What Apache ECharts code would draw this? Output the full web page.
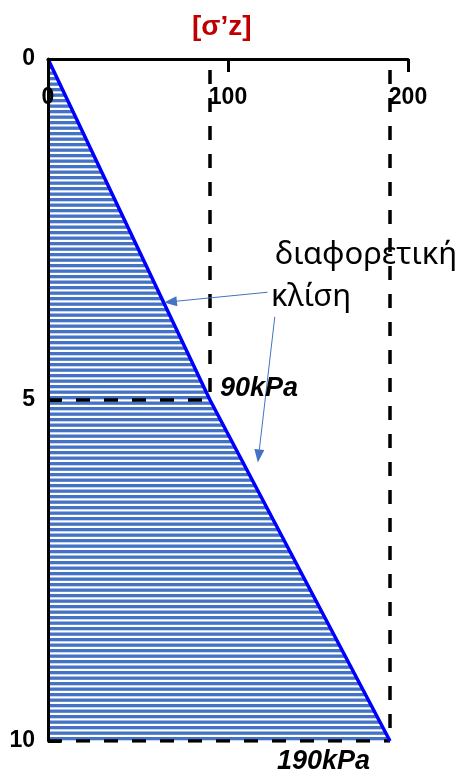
<!DOCTYPE html>
<html>
<head>
<meta charset="utf-8">
<script src="https://cdn.jsdelivr.net/npm/echarts@6/dist/echarts.min.js"></script>
<style>
  html, body { margin: 0; padding: 0; background: #fff; }
  #main { width: 462px; height: 771px; }
</style>
</head>
<body>
<div id="main"></div>
<script>
// profile of effective vertical stress with depth
const depth = [0, 5, 10];
const stress = [0, 90, 190];
const stressLabels = ['', '90kPa', '190kPa'];
const xTicks = [0, 100, 200];
const yTicks = [0, 5, 10];

// annotation arrows: [from, to] in [stress, depth]
const arrows = [
  [[122, 3.42], [68, 3.56]],
  [[126, 3.78], [117, 5.82]]
];

function stripes() {
  const c = document.createElement('canvas');
  c.width = 4; c.height = 11;
  const ctx = c.getContext('2d');
  ctx.fillStyle = '#fff';
  ctx.fillRect(0, 0, 4, 11);
  ctx.fillStyle = '#4472C4';
  ctx.fillRect(0, 0, 4, 3.3);
  ctx.fillRect(0, 5.5, 4, 3.3);
  return c;
}
const pattern = { image: stripes(), repeat: 'repeat' };

const layers = depth.slice(1).map((d, i) => [stress[i], depth[i], stress[i + 1], d]);

const dashStyle = { color: '#000', width: 3.5, type: [14, 14] };
const guides = [];
for (let i = 1; i < depth.length; i++) {
  guides.push({
    type: 'line', symbol: 'none', silent: true, z: 3,
    data: [[stress[i], 0], [stress[i], depth[i]]],
    lineStyle: Object.assign({ dashOffset: 17 }, dashStyle)
  });
  guides.push({
    type: 'line', symbol: 'none', silent: true, z: 3,
    data: [[0, depth[i]], [stress[i], depth[i]]],
    lineStyle: dashStyle
  });
}

const chart = echarts.init(document.getElementById('main'));
chart.setOption({
  animation: false,
  title: {
    text: '[σ’z]',
    left: 187, top: 8,
    textStyle: { color: '#C00000', fontSize: 28, fontWeight: 'bold', fontFamily: 'Liberation Sans' }
  },
  grid: { left: 48, top: 59, right: 54, bottom: 30 },
  xAxis: {
    type: 'value', position: 'top', min: 0, max: 200, interval: 100, z: 5,
    axisLine: { lineStyle: { color: '#000', width: 3 } },
    axisTick: { inside: true, length: 13, lineStyle: { color: '#000', width: 3 } },
    axisLabel: {
      inside: true, margin: 27, color: '#000', fontSize: 23, fontWeight: 'bold',
      fontFamily: 'Liberation Sans',
      formatter: v => xTicks.includes(v) ? String(v) : ''
    },
    splitLine: { show: false }
  },
  yAxis: {
    type: 'value', inverse: true, min: 0, max: 10, interval: 5, z: 5,
    axisLine: { show: true, lineStyle: { color: '#000', width: 3 } },
    axisTick: { show: true, inside: true, length: 13, lineStyle: { color: '#000', width: 3 } },
    axisLabel: {
      margin: 13, color: '#000', fontSize: 23, fontWeight: 'bold',
      fontFamily: 'Liberation Sans',
      formatter: v => yTicks.includes(v) ? String(v) : ''
    },
    splitLine: { show: false }
  },
  graphic: [
    { type: 'text', left: 275, top: 240, style: { text: 'διαφορετική', fontSize: 31, fontFamily: 'Noto Sans', fill: '#000' } },
    { type: 'text', left: 271, top: 282, style: { text: 'κλίση', fontSize: 31, fontFamily: 'Noto Sans', fill: '#000' } }
  ],
  series: [
    {
      type: 'custom', silent: true, z: 1,
      data: layers,
      encode: { x: [0, 2], y: [1, 3] },
      renderItem: (params, api) => {
        const top = api.value(1), bot = api.value(3);
        const pts = [
          api.coord([0, top]),
          api.coord([api.value(0), top]),
          api.coord([api.value(2), bot]),
          api.coord([0, bot])
        ];
        return { type: 'polygon', shape: { points: pts }, style: { fill: pattern } };
      }
    },
    ...guides,
    {
      type: 'line', symbol: 'none', silent: true, z: 4,
      data: stress.map((x, i) => [x, depth[i]]),
      lineStyle: { color: '#0000FF', width: 3.5 },
      markLine: {
        silent: true, symbol: ['none', 'triangle'], symbolSize: [10, 13],
        lineStyle: { color: '#4472C4', width: 1, type: 'solid' },
        label: { show: false },
        data: arrows.map(a => [{ coord: a[0] }, { coord: a[1] }])
      }
    },
    {
      type: 'scatter', symbolSize: 0, silent: true, z: 6,
      itemStyle: { opacity: 1 },
      data: stress.map((x, i) => ({
        value: [x, depth[i]],
        label: i === 1
          ? { show: true, position: 'right', distance: 10, offset: [0, -11] }
          : i === 2
            ? { show: true, position: 'left', distance: 20, offset: [0, 21] }
            : { show: false }
      })),
      label: {
        formatter: p => stressLabels[p.dataIndex],
        color: '#000', fontSize: 27, fontWeight: 'bold', fontStyle: 'italic',
        fontFamily: 'Liberation Sans'
      }
    }
  ]
});
</script>
</body>
</html>
